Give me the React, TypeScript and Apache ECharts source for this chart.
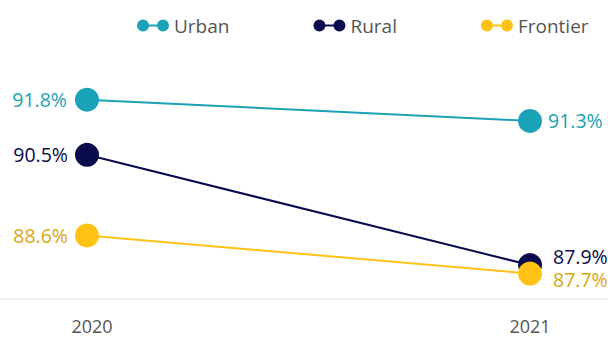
import React, { useEffect, useRef } from "react";
import * as echarts from "echarts";

const categories = ["2020", "2021"];
const urban = [91.8, 91.3];
const rural = [90.5, 87.9];
const frontier = [88.6, 87.7];
const seriesNames = ["Urban", "Rural", "Frontier"];

const FONT = "'Open Sans', 'Noto Sans', sans-serif";
const ICON =
  "path://M6,0A6,6 0 1 1 6,12A6,6 0 1 1 6,0ZM26,0A6,6 0 1 1 26,12A6,6 0 1 1 26,0ZM6,5L26,5L26,7L6,7Z";

function makeData(vals: number[], labelColor: string, offsets: number[][], dists: number[]) {
  return vals.map((v, i) => ({
    value: v,
    label: {
      show: true,
      position: i === 0 ? "left" : "right",
      distance: dists[i],
      offset: offsets[i],
      formatter: (p: any) => p.value.toFixed(1) + "%",
      color: labelColor,
      fontSize: 19.5,
      lineHeight: 20,
      fontFamily: FONT,
    },
  }));
}

export default function App() {
  const ref = useRef<HTMLDivElement>(null);
  useEffect(() => {
    const chart = echarts.init(ref.current!, null, { renderer: "svg" });
    const mk = (
      name: string,
      vals: number[],
      color: string,
      labelColor: string,
      offsets: number[][],
      dists: number[]
    ) => ({
      name,
      type: "line",
      data: makeData(vals, labelColor, offsets, dists),
      symbol: "circle",
      symbolSize: 24,
      itemStyle: { color },
      lineStyle: { color, width: 2 },
      z: 2,
    });
    chart.setOption({
      animation: false,
      legend: {
        top: 11,
        left: 132,
        itemWidth: 32,
        itemHeight: 12,
        itemGap: 84,
        icon: ICON,
        data: seriesNames,
        textStyle: { fontSize: 19, color: "#555", fontFamily: FONT },
      },
      grid: { left: 87, right: 78, top: 87, height: 212 },
      xAxis: {
        type: "category",
        data: categories.map((c, i) =>
          i === 0 ? { value: c, textStyle: { padding: [0, 0, 0, 10] } } : c
        ),
        boundaryGap: false,
        axisLine: { show: false },
        axisTick: { show: false },
        axisLabel: { fontSize: 18, lineHeight: 14, color: "#555", fontFamily: FONT, margin: 20 },
      },
      yAxis: {
        type: "value",
        min: 87.1,
        max: 92.1,
        show: false,
      },
      graphic: [
        {
          type: "line",
          shape: { x1: 0, y1: 299, x2: 608, y2: 299 },
          style: { stroke: "#e3e3e3", lineWidth: 1 },
          z: 0,
        },
      ],
      series: [
        mk(seriesNames[0], urban, "#1aa2b6", "#1aa2b6", [[0, 0], [0, 0]], [8, 6]),
        mk(seriesNames[1], rural, "#0b0c4b", "#0b0c4b", [[0, 0], [0, -9]], [7, 11]),
        mk(seriesNames[2], frontier, "#ffc215", "#dca50e", [[0, 0], [0, 6]], [7, 11]),
      ],
    });
    return () => chart.dispose();
  }, []);
  return <div ref={ref} style={{ width: 608, height: 337, position: "absolute", left: 0, top: 0 }} />;
}
